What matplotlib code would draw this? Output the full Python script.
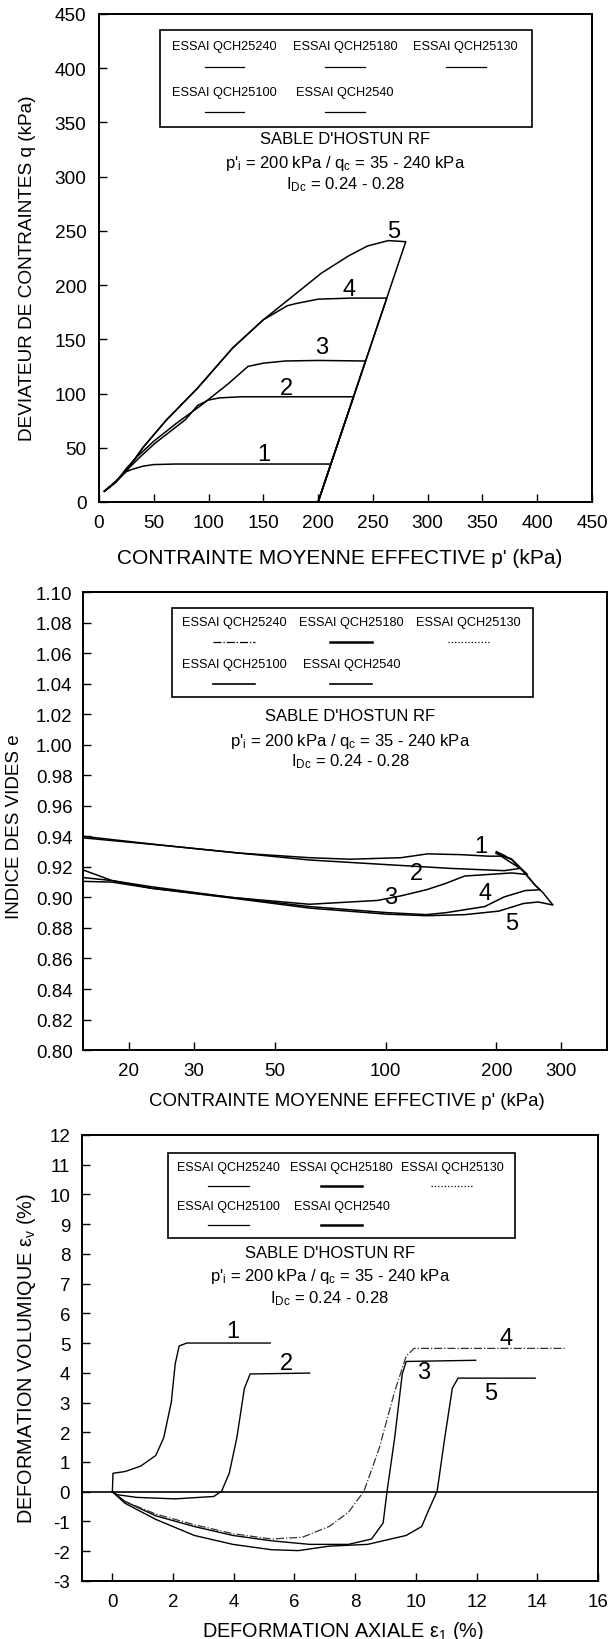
import matplotlib
matplotlib.use("Agg")
import matplotlib.pyplot as plt
from matplotlib.patches import Rectangle
from matplotlib.ticker import NullLocator, FixedLocator, FixedFormatter

plt.rcParams['font.family'] = ['Liberation Sans', 'DejaVu Sans']
plt.rcParams['mathtext.fontset'] = 'custom'
plt.rcParams['mathtext.rm'] = 'Liberation Sans'
plt.rcParams['mathtext.it'] = 'Liberation Sans'
plt.rcParams['axes.unicode_minus'] = False

TESTS = ["ESSAI QCH25240", "ESSAI QCH25180", "ESSAI QCH25130",
         "ESSAI QCH25100", "ESSAI QCH2540"]
INFO = ["SABLE D'HOSTUN RF",
        r"p'$_\mathrm{i}$ = 200 kPa / q$_\mathrm{c}$ = 35 - 240 kPa",
        r"I$_\mathrm{Dc}$ = 0.24 - 0.28"]

# --- q vs p' (kPa), tests numbered as on the curves
p_1 = [200, 211.7, 180, 120, 70, 50, 40, 30, 25, 15, 5]
q_1 = [0, 35, 35, 35, 35, 34.5, 33, 30, 28, 19, 10]
p_2 = [200, 232.3, 180, 130, 110, 100, 90, 79, 65, 51, 38, 26, 15, 5]
q_2 = [0, 97, 97, 97, 96, 94, 89, 76, 65, 54, 42, 30, 18, 10]
p_3 = [200, 243.3, 200, 170, 150, 136, 118, 93, 70, 50, 35, 25, 15, 5]
q_3 = [0, 130, 130.5, 130, 128, 125, 109, 89, 72, 56, 42, 31, 18, 10]
p_4 = [200, 262.7, 230, 200, 180, 172, 150, 122, 90, 61, 40, 26, 15, 5]
q_4 = [0, 188, 188, 187, 183, 181, 168, 142, 105, 75, 50, 30, 18, 10]
p_5 = [200, 280, 264, 245, 228, 203, 171, 150, 122, 90, 61, 40, 26, 15, 5]
q_5 = [0, 240, 241, 236, 227, 211, 185, 168, 142, 105, 75, 50, 30, 18, 10]

# --- void ratio e vs log p'
pe_1 = [200, 212, 190, 160, 130, 110, 80, 62, 40, 25, 15]
e_1 = [0.930, 0.927, 0.927, 0.928, 0.9285, 0.926, 0.925, 0.926, 0.929, 0.934, 0.940]
pe_2 = [200, 232, 210, 150, 100, 62, 40, 25, 15]
e_2 = [0.929, 0.919, 0.9175, 0.919, 0.9215, 0.9245, 0.929, 0.934, 0.939]
pe_3 = [200, 220, 243, 220, 190, 164, 145, 129, 110, 95, 80, 62, 38, 23, 18, 15]
e_3 = [0.929, 0.925, 0.915, 0.916, 0.915, 0.914, 0.909, 0.905, 0.901, 0.898,
       0.897, 0.8955, 0.900, 0.906, 0.911, 0.918]
pe_4 = [200, 220, 237, 255, 263, 240, 210, 186, 146, 129, 101, 62, 38, 23, 18, 15]
e_4 = [0.929, 0.925, 0.917, 0.908, 0.905, 0.9045, 0.9003, 0.894, 0.890, 0.8887,
       0.890, 0.894, 0.900, 0.907, 0.911, 0.913]
pe_5 = [200, 220, 237, 255, 268, 285, 260, 237, 203, 164, 129, 101, 62, 38, 23, 18, 15]
e_5 = [0.929, 0.925, 0.917, 0.908, 0.903, 0.895, 0.897, 0.896, 0.891, 0.8887,
       0.888, 0.889, 0.893, 0.8996, 0.906, 0.910, 0.9105]

# --- volumetric strain vs axial strain (%)
ea_1 = [0, 0.02, 0.42, 0.93, 1.43, 1.69, 1.94, 2.07, 2.2, 2.45, 5.2]
ev_1 = [0, 0.62, 0.68, 0.86, 1.22, 1.81, 3.0, 4.3, 4.9, 5.0, 5.0]
ea_2 = [0, 0.16, 0.8, 2.07, 3.34, 3.6, 3.85, 4.1, 4.35, 4.54, 6.5]
ev_2 = [0, -0.1, -0.19, -0.24, -0.16, 0.02, 0.62, 1.81, 3.48, 3.96, 3.99]
ea_3 = [0, 0.42, 1.43, 2.7, 3.97, 5.24, 6.5, 7.78, 8.54, 8.92, 9.05, 9.3, 9.55, 9.68, 11.97]
ev_3 = [0, -0.33, -0.81, -1.17, -1.47, -1.65, -1.77, -1.77, -1.59, -1.05, 0.02,
        1.81, 3.96, 4.38, 4.42]
ea_4 = [0, 0.42, 1.43, 2.7, 3.97, 5.24, 6.26, 7.14, 7.78, 8.29, 8.79, 9.3, 9.68, 9.94, 14.9]
ev_4 = [0, -0.33, -0.75, -1.11, -1.41, -1.59, -1.53, -1.17, -0.69, 0.02, 1.46,
        3.37, 4.56, 4.82, 4.82]
ea_5 = [0, 0.42, 1.43, 2.7, 3.97, 5.24, 6.13, 7.14, 8.41, 9.68, 10.19, 10.44,
        10.7, 10.95, 11.2, 11.39, 13.93]
ev_5 = [0, -0.39, -0.93, -1.47, -1.77, -1.95, -1.98, -1.83, -1.77, -1.47, -1.17,
        -0.57, 0.02, 1.81, 3.48, 3.82, 3.82]

# curve number tags: (x, y) in data units
tags_q = [(150, 44), (171, 105), (203, 143), (228, 196), (269, 250)]
tags_e = [(182, 0.9336), (121, 0.916), (103, 0.900), (186, 0.903), (220, 0.883)]
tags_v = [(3.97, 5.39), (5.75, 4.32), (10.25, 4.02), (12.98, 5.16), (12.47, 3.31)]

XLAB_P = "CONTRAINTE MOYENNE EFFECTIVE p' (kPa)"

fig = plt.figure(figsize=(6.08, 16.40), dpi=100)
ax1 = fig.add_axes([0.1628, 0.6933, 0.8109, 0.2976])
ax2 = fig.add_axes([0.1365, 0.3591, 0.8618, 0.2793])
ax3 = fig.add_axes([0.1349, 0.0354, 0.8487, 0.2720])


def style_axes(ax, size, ypad):
    for s in ax.spines.values():
        s.set_linewidth(1.4)
    ax.tick_params(direction='in', length=6, width=1, top=False, right=False,
                   labelsize=size)
    ax.tick_params(axis='x', pad=8.5)
    ax.tick_params(axis='y', pad=ypad)


def draw_key(ax, box, cols, rows, key_styles, size):
    x0, y0, x1, y1 = box
    ax.add_patch(Rectangle((x0, y0), x1 - x0, y1 - y0, transform=ax.transAxes,
                           fill=False, lw=1.2, ec='black'))
    for i, lab in enumerate(TESTS):
        r, c = divmod(i, 3)
        ax.text(cols[c], rows[r][0], lab, transform=ax.transAxes, ha='center',
                va='center', fontsize=size)
        ax.plot([cols[c] - 0.04, cols[c] + 0.04], [rows[r][1]] * 2,
                transform=ax.transAxes, color='black', **key_styles[i])


def draw_info(ax, xc, ys):
    for y, line in zip(ys, INFO):
        ax.text(xc, y, line, transform=ax.transAxes, ha='center', va='center',
                fontsize=12)


def draw_tags(ax, tags):
    for n, (x, y) in enumerate(tags, start=1):
        ax.text(x, y, str(n), ha='center', va='center', fontsize=17)


# ---- top: stress paths
for p, q in [(p_1, q_1), (p_2, q_2), (p_3, q_3), (p_4, q_4), (p_5, q_5)]:
    ax1.plot(p, q, color='black', lw=1.1)
ax1.set_xlim(0, 450)
ax1.set_ylim(0, 450)
ax1.set_xticks(range(0, 451, 50))
ax1.set_yticks(range(0, 451, 50))
style_axes(ax1, 13.7, 9)
ax1.set_xlabel(XLAB_P, fontsize=15)
ax1.set_ylabel("DEVIATEUR DE CONTRAINTES q (kPa)", fontsize=13.7)
ax1.xaxis.set_label_coords(0.489, -0.095)
ax1.yaxis.set_label_coords(-0.128, 0.48)
solid = [dict(lw=0.9)] * 5
draw_key(ax1, (0.124, 0.769, 0.878, 0.967), [0.255, 0.499, 0.744],
         [(0.934, 0.892), (0.841, 0.800)], solid, 9.2)
draw_info(ax1, 0.5, [0.744, 0.696, 0.652])
draw_tags(ax1, tags_q)

# ---- middle: void ratio
for p, e in [(pe_1, e_1), (pe_2, e_2), (pe_3, e_3), (pe_4, e_4), (pe_5, e_5)]:
    ax2.plot(p, e, color='black', lw=1.1)
ax2.set_xscale('log')
ax2.set_xlim(15, 400)
ax2.set_ylim(0.80, 1.10)
xt = [20, 30, 50, 100, 200, 300]
ax2.xaxis.set_major_locator(FixedLocator(xt))
ax2.xaxis.set_major_formatter(FixedFormatter([str(v) for v in xt]))
ax2.xaxis.set_minor_locator(NullLocator())
ax2.set_yticks([0.80 + 0.02 * i for i in range(16)])
ax2.set_yticklabels(["%.2f" % (0.80 + 0.02 * i) for i in range(16)])
style_axes(ax2, 13.5, 7.5)
ax2.set_xlabel(XLAB_P, fontsize=13.4)
ax2.set_ylabel("INDICE DES VIDES e", fontsize=13.5,
               family=['Liberation Sans Narrow', 'Liberation Sans'])
ax2.xaxis.set_label_coords(0.503, -0.092)
ax2.yaxis.set_label_coords(-0.115, 0.49)
mixed = [dict(lw=0.9, ls='-.'), dict(lw=1.8), dict(lw=0.9, ls=':'),
         dict(lw=1.2), dict(lw=1.2)]
draw_key(ax2, (0.169, 0.771, 0.859, 0.965), [0.288, 0.512, 0.736],
         [(0.934, 0.891), (0.843, 0.800)], mixed, 9.2)
draw_info(ax2, 0.51, [0.73, 0.675, 0.631])
draw_tags(ax2, tags_e)

# ---- bottom: volumetric strain
ax3.axhline(0, color='black', lw=1.2)
ax3.plot(ea_1, ev_1, color='black', lw=1.0)
ax3.plot(ea_2, ev_2, color='black', lw=1.0)
ax3.plot(ea_3, ev_3, color='black', lw=1.0)
ax3.plot(ea_4, ev_4, color='#333333', lw=0.9, ls='-.')
ax3.plot(ea_5, ev_5, color='black', lw=1.0)
ax3.set_xlim(-1, 16)
ax3.set_ylim(-3, 12)
ax3.set_xticks(range(0, 17, 2))
ax3.set_yticks(range(-3, 13))
style_axes(ax3, 13.5, 8.5)
ax3.set_xlabel(r"DEFORMATION AXIALE ε$_\mathrm{1}$ (%)", fontsize=14.3)
ax3.set_ylabel(r"DEFORMATION VOLUMIQUE ε$_\mathrm{v}$ (%)", fontsize=14.3)
ax3.xaxis.set_label_coords(0.505, -0.085)
ax3.yaxis.set_label_coords(-0.086, 0.5)
vstyles = [dict(lw=0.9), dict(lw=1.8), dict(lw=0.9, ls=':'),
           dict(lw=0.9), dict(lw=1.8)]
draw_key(ax3, (0.166, 0.768, 0.840, 0.960), [0.284, 0.503, 0.717],
         [(0.928, 0.886), (0.840, 0.798)], vstyles, 9.0)
draw_info(ax3, 0.48, [0.736, 0.684, 0.636])
draw_tags(ax3, tags_v)

fig.savefig("out.png", dpi=100)
